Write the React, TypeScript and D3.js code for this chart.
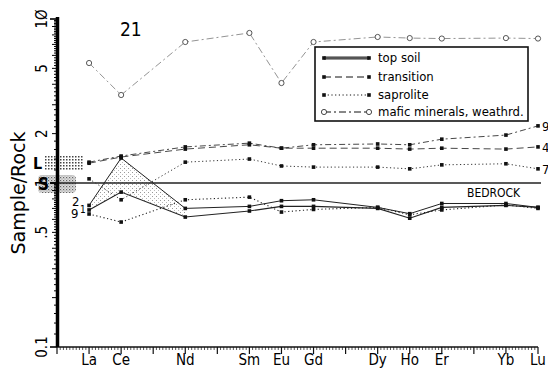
import * as d3 from 'd3';

// REE order, index 1..15 on the x axis
const elements = ['La', 'Ce', 'Pr', 'Nd', 'Pm', 'Sm', 'Eu', 'Gd', 'Tb', 'Dy', 'Ho', 'Er', 'Tm', 'Yb', 'Lu'];
const plotted = ['La', 'Ce', 'Nd', 'Sm', 'Eu', 'Gd', 'Dy', 'Ho', 'Er', 'Yb', 'Lu'];

// sample / bedrock ratios
const mafic = [5.39, 3.44, 7.24, 8.22, 4.07, 7.24, 7.77, 7.65, 7.6, 7.65, 7.6];
const transition9 = [1.34, 1.46, 1.66, 1.75, 1.63, 1.71, 1.73, 1.71, 1.85, 1.96, 2.23];
const transition4 = [1.32, 1.44, 1.61, 1.71, 1.63, 1.63, 1.63, 1.61, 1.63, 1.61, 1.66];
const saprolite7 = [1.06, 0.79, 1.34, 1.4, 1.27, 1.25, 1.25, 1.22, 1.29, 1.31, 1.22];
const topSoil2 = [0.73, 1.42, 0.7, 0.72, 0.78, 0.79, 0.71, 0.65, 0.75, 0.75, 0.71];
const topSoil1 = [0.685, 0.88, 0.62, 0.675, 0.72, 0.72, 0.7, 0.61, 0.71, 0.73, 0.71];
const saprolite9 = [0.647, 0.578, 0.79, 0.82, 0.665, 0.69, 0.71, 0.64, 0.685, 0.735, 0.7];

const yTickLabels = [
  { v: 10, t: '1Ø' },
  { v: 5, t: '5' },
  { v: 2, t: '2' },
  { v: 1, t: '1' },
  { v: 0.5, t: '.5' },
  { v: 0.1, t: '0.1' },
];

const legendItems = ['top soil', 'transition', 'saprolite', 'mafic minerals, weathrd.'];

const W = 548;
const H = 386;
const FONT = "'DejaVu Sans Condensed', 'Liberation Sans Narrow', sans-serif";

export default function App() {
  const x = d3.scaleLinear().domain([0, 15]).range([57, 538]);
  const y = d3.scaleLog().domain([0.1, 10]).range([347, 19]);
  const xi = (el: string) => x(elements.indexOf(el) + 1);

  const pts = (vals: number[]) => vals.map((v, i) => [xi(plotted[i]), y(v)] as [number, number]);
  const line = d3.line();

  // stippled band between the two top soil lines (La-Ce-Nd)
  const band = d3
    .area<number>()
    .x((i) => xi(plotted[i]))
    .y0((i) => y(topSoil1[i]))
    .y1((i) => y(topSoil2[i]));

  // y-axis minor ticks
  const yMinor: number[] = [];
  [0.1, 1].forEach((dec) => {
    for (let m = 1; m < 10.001; m += 0.2) yMinor.push(+(m * dec).toFixed(3));
  });
  const xMinor = d3.range(0, 150.5, 1).map((k) => k / 10);

  const series = [
    { vals: mafic, dash: '7 3 2 3', stroke: '#777', w: 0.8, open: true },
    { vals: transition9, dash: '6 3 2 3', stroke: '#333', w: 0.9 },
    { vals: transition4, dash: '7 4', stroke: '#333', w: 0.9 },
    { vals: saprolite7, dash: '1.2 2.5', stroke: '#333', w: 1 },
    { vals: topSoil2, dash: null, stroke: '#222', w: 1 },
    { vals: topSoil1, dash: null, stroke: '#222', w: 1.1 },
    { vals: saprolite9, dash: '1.2 2.5', stroke: '#222', w: 1.1 },
  ];

  const legendX0 = 324;
  const legendX1 = 369;
  const legendYs = [58, 77, 95, 112];
  const legendDash = [null, '7 4', '1.2 2.5', '7 3 2 3'];

  return (
    <svg
      width={W}
      height={H}
      style={{ position: 'absolute', left: 0, top: 0, background: '#fff' }}
      fontFamily={FONT}
    >
      <defs>
        <pattern id="checker" width="3" height="3" patternUnits="userSpaceOnUse">
          <rect width="3" height="3" fill="#fff" />
          <rect width="1.5" height="1.5" fill="#444" />
        </pattern>
        <pattern id="stip" width="4" height="4" patternUnits="userSpaceOnUse">
          <rect width="4" height="4" fill="#fff" />
          <rect x="0" y="0" width="1" height="1" fill="#999" />
          <rect x="2" y="2" width="1" height="1" fill="#bbb" />
        </pattern>
        <pattern id="stipDark" width="3" height="3" patternUnits="userSpaceOnUse">
          <rect width="3" height="3" fill="#ddd" />
          <rect x="0" y="0" width="1.2" height="1.2" fill="#666" />
          <rect x="1.5" y="1.5" width="1" height="1" fill="#888" />
        </pattern>
      </defs>

      {/* L and S boxes at left axis */}
      <rect x={45} y={y(1.32) - 8} width={39} height={15} fill="url(#checker)" />
      <rect x={38} y={y(1) - 8} width={38} height={18} fill="url(#stipDark)" rx={4} />
      <text x={33} y={y(1.32) + 6} fontSize={16} fontWeight="bold">L</text>
      <text x={38} y={y(1) + 7} fontSize={17} fontWeight="bold">S</text>

      {/* stippled top soil band */}
      <path d={band([0, 1, 2]) ?? ''} fill="url(#stip)" stroke="none" />

      {/* bedrock */}
      <line x1={x(0)} x2={541} y1={y(1)} y2={y(1)} stroke="#222" strokeWidth={1.3} />
      <text x={467} y={197} fontSize={12}>BEDROCK</text>

      {/* series */}
      {series.map((s, k) => (
        <g key={k}>
          <path
            d={line(pts(s.vals)) ?? ''}
            fill="none"
            stroke={s.stroke}
            strokeWidth={s.w}
            strokeDasharray={s.dash ?? undefined}
          />
          {pts(s.vals).map(([px, py], i) =>
            s.open ? (
              <circle key={i} cx={px} cy={py} r={2.6} fill="#fff" stroke="#444" strokeWidth={0.9} />
            ) : (
              <rect key={i} x={px - 1.8} y={py - 1.8} width={3.6} height={3.6} fill="#111" />
            )
          )}
        </g>
      ))}

      {/* sample labels */}
      <text x={542} y={y(transition9[10]) + 5} fontSize={13}>9</text>
      <text x={542} y={y(transition4[10]) + 5} fontSize={13}>4</text>
      <text x={542} y={y(saprolite7[10]) + 5} fontSize={13}>7</text>
      <text x={72} y={y(topSoil2[0]) + 1} fontSize={13}>2</text>
      <text x={80} y={y(topSoil1[0]) + 3} fontSize={10}>1</text>
      <text x={71} y={y(saprolite9[0]) + 4} fontSize={13}>9</text>

      {/* x axis */}
      <line x1={x(0)} x2={x(15)} y1={y(0.1)} y2={y(0.1)} stroke="#111" strokeWidth={1.6} />
      {xMinor.map((v) => (
        <line
          key={v}
          x1={x(v)}
          x2={x(v)}
          y1={y(0.1)}
          y2={y(0.1) + (Math.abs(v - Math.round(v)) < 1e-6 ? 7 : 3)}
          stroke="#111"
          strokeWidth={Math.abs(v - Math.round(v)) < 1e-6 ? 1.2 : 0.7}
        />
      ))}
      {plotted.map((el) => (
        <text key={el} x={xi(el)} y={365} fontSize={15} textAnchor="middle">{el}</text>
      ))}

      {/* y axis */}
      <line x1={57.5} x2={57.5} y1={y(10) - 2} y2={y(0.1)} stroke="#000" strokeWidth={3.5} />
      {yMinor.map((v) => {
        const major = Math.abs(Math.log10(v) - Math.round(Math.log10(v))) < 1e-6;
        const whole = Math.abs(v / (v < 1 ? 0.1 : 1) - Math.round(v / (v < 1 ? 0.1 : 1))) < 1e-6;
        return (
          <line
            key={v}
            x1={57}
            x2={57 - (major ? 7 : whole ? 5 : 3)}
            y1={y(v)}
            y2={y(v)}
            stroke="#000"
            strokeWidth={major ? 1.6 : 1}
          />
        );
      })}
      {yTickLabels.map((d) => (
        <text
          key={d.t}
          transform={`translate(47,${y(d.v)}) rotate(-90)`}
          fontSize={15}
          textAnchor="middle"
        >
          {d.t}
        </text>
      ))}
      <text
        transform={`translate(25,193) rotate(-90)`}
        fontSize={19}
        fontFamily="'DejaVu Sans', sans-serif"
        textAnchor="middle"
      >
        Sample/Rock
      </text>

      <text x={120} y={36} fontSize={19}>21</text>

      {/* legend */}
      <rect x={315} y={47} width={213} height={74} fill="#fff" stroke="#111" strokeWidth={1.6} />
      {legendItems.map((t, i) => (
        <g key={t}>
          {i === 0 && (
            <line x1={legendX0} x2={legendX1} y1={legendYs[i]} y2={legendYs[i]} stroke="#999" strokeWidth={4} />
          )}
          <line
            x1={legendX0}
            x2={legendX1}
            y1={legendYs[i]}
            y2={legendYs[i]}
            stroke="#111"
            strokeWidth={1}
            strokeDasharray={legendDash[i] ?? undefined}
          />
          {[legendX0, legendX1].map((lx) =>
            i === 3 ? (
              <circle key={lx} cx={lx} cy={legendYs[i]} r={2.6} fill="#fff" stroke="#333" strokeWidth={0.9} />
            ) : (
              <rect key={lx} x={lx - 1.8} y={legendYs[i] - 1.8} width={3.6} height={3.6} fill="#111" />
            )
          )}
          <text x={378} y={legendYs[i] + 4} fontSize={13}>{t}</text>
        </g>
      ))}
    </svg>
  );
}
